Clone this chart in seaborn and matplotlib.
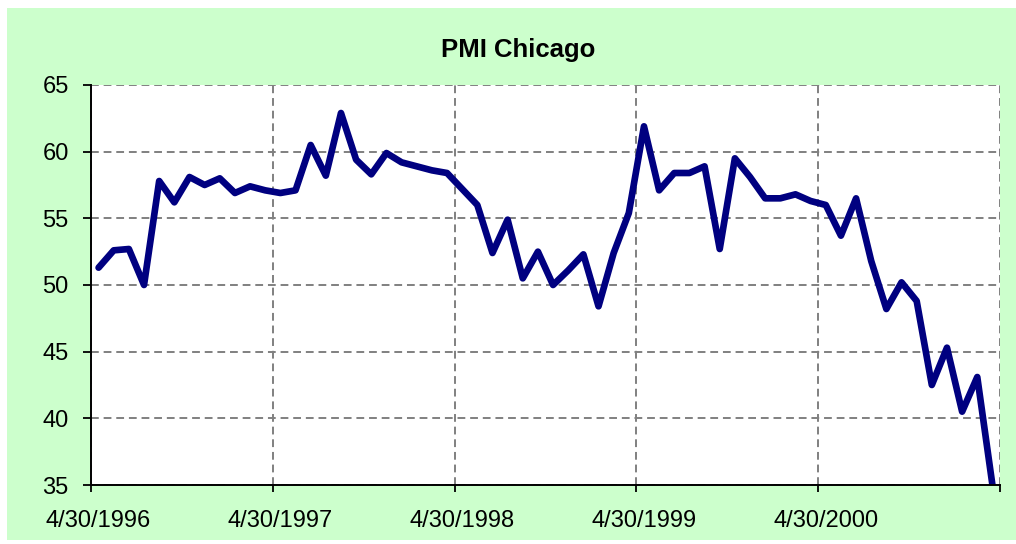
import matplotlib
matplotlib.use("Agg")
import matplotlib.pyplot as plt
import numpy as np
import pandas as pd
import seaborn as sns
from matplotlib.patches import Rectangle

# monthly PMI Chicago readings, 4/30/1996 .. 3/31/2001
pmi_values = [
    51.3, 52.6, 52.7, 50.0, 57.8, 56.2, 58.1, 57.5, 58.0, 56.9, 57.4, 57.1,
    56.9, 57.1, 60.5, 58.2, 62.9, 59.4, 58.3, 59.9, 59.2, 58.9, 58.6, 58.4,
    57.2, 56.0, 52.4, 54.9, 50.5, 52.5, 50.0, 51.1, 52.3, 48.4, 52.4, 55.4,
    61.9, 57.1, 58.4, 58.4, 58.9, 52.7, 59.5, 58.1, 56.5, 56.5, 56.8, 56.3,
    56.0, 53.7, 56.5, 51.8, 48.2, 50.2, 48.8, 42.5, 45.3, 40.5, 43.1, 35.0,
]
tick_labels = ["4/30/1996", "4/30/1997", "4/30/1998", "4/30/1999", "4/30/2000"]
y_ticks = [35, 40, 45, 50, 55, 60, 65]
months_per_label = 12


def main() -> None:
    sns.set_style("white")
    plt.rcParams["font.family"] = ["Liberation Sans", "DejaVu Sans"]
    plt.rcParams["text.color"] = "black"
    plt.rcParams["xtick.color"] = "black"
    plt.rcParams["ytick.color"] = "black"

    fig = plt.figure(figsize=(10.16, 5.44), dpi=100)
    fig.patch.set_facecolor("white")
    fig.patches.append(
        Rectangle((7 / 1016, 4 / 544), 1 - 7 / 1016, 532 / 544,
                  transform=fig.transFigure, facecolor="#CCFFCC", edgecolor="none", zorder=-10)
    )

    ax = fig.add_axes([91 / 1016, 59 / 544, 909 / 1016, 400 / 544])
    ax.set_facecolor("white")

    # category axis: each month sits in the middle of its slot
    df = pd.DataFrame({"slot": np.arange(len(pmi_values)) + 0.5, "pmi": pmi_values})
    sns.lineplot(data=df, x="slot", y="pmi", ax=ax, color="#000080", linewidth=4.8)

    n = len(pmi_values)
    ax.set_xlim(0, n)
    ax.set_ylim(y_ticks[0], y_ticks[-1])

    ax.set_xticks(np.arange(0, n + 1, months_per_label))
    ax.set_xticklabels([])
    ax.set_xticks(np.arange(len(tick_labels)) * months_per_label + 0.5, minor=True)
    ax.set_xticklabels(tick_labels, minor=True)
    ax.set_yticks(y_ticks)
    ax.set_yticklabels([str(v) for v in y_ticks])

    ax.tick_params(axis="x", which="major", direction="out", length=5, width=1.3, color="black")
    ax.tick_params(axis="x", which="minor", length=0, pad=18, labelsize=17)
    ax.tick_params(axis="y", direction="out", length=6, width=1.3, color="black", pad=10, labelsize=17)
    ax.tick_params(left=True, bottom=True)

    ax.grid(True, which="major", color="#808080", linestyle=(0, (4, 2.5)), linewidth=1.4)
    ax.set_axisbelow(True)

    for side in ("top", "right"):
        ax.spines[side].set_visible(False)
    for side in ("left", "bottom"):
        ax.spines[side].set_color("black")
        ax.spines[side].set_linewidth(1.4)

    ax.set_xlabel("")
    ax.set_ylabel("")
    fig.text(518 / 1016, 1 - 50 / 544, "PMI Chicago", ha="center", va="center",
             fontsize=18.5, fontweight="bold", color="black")

    fig.savefig("out.png", dpi=100)
    plt.close(fig)


if __name__ == "__main__":
    main()
